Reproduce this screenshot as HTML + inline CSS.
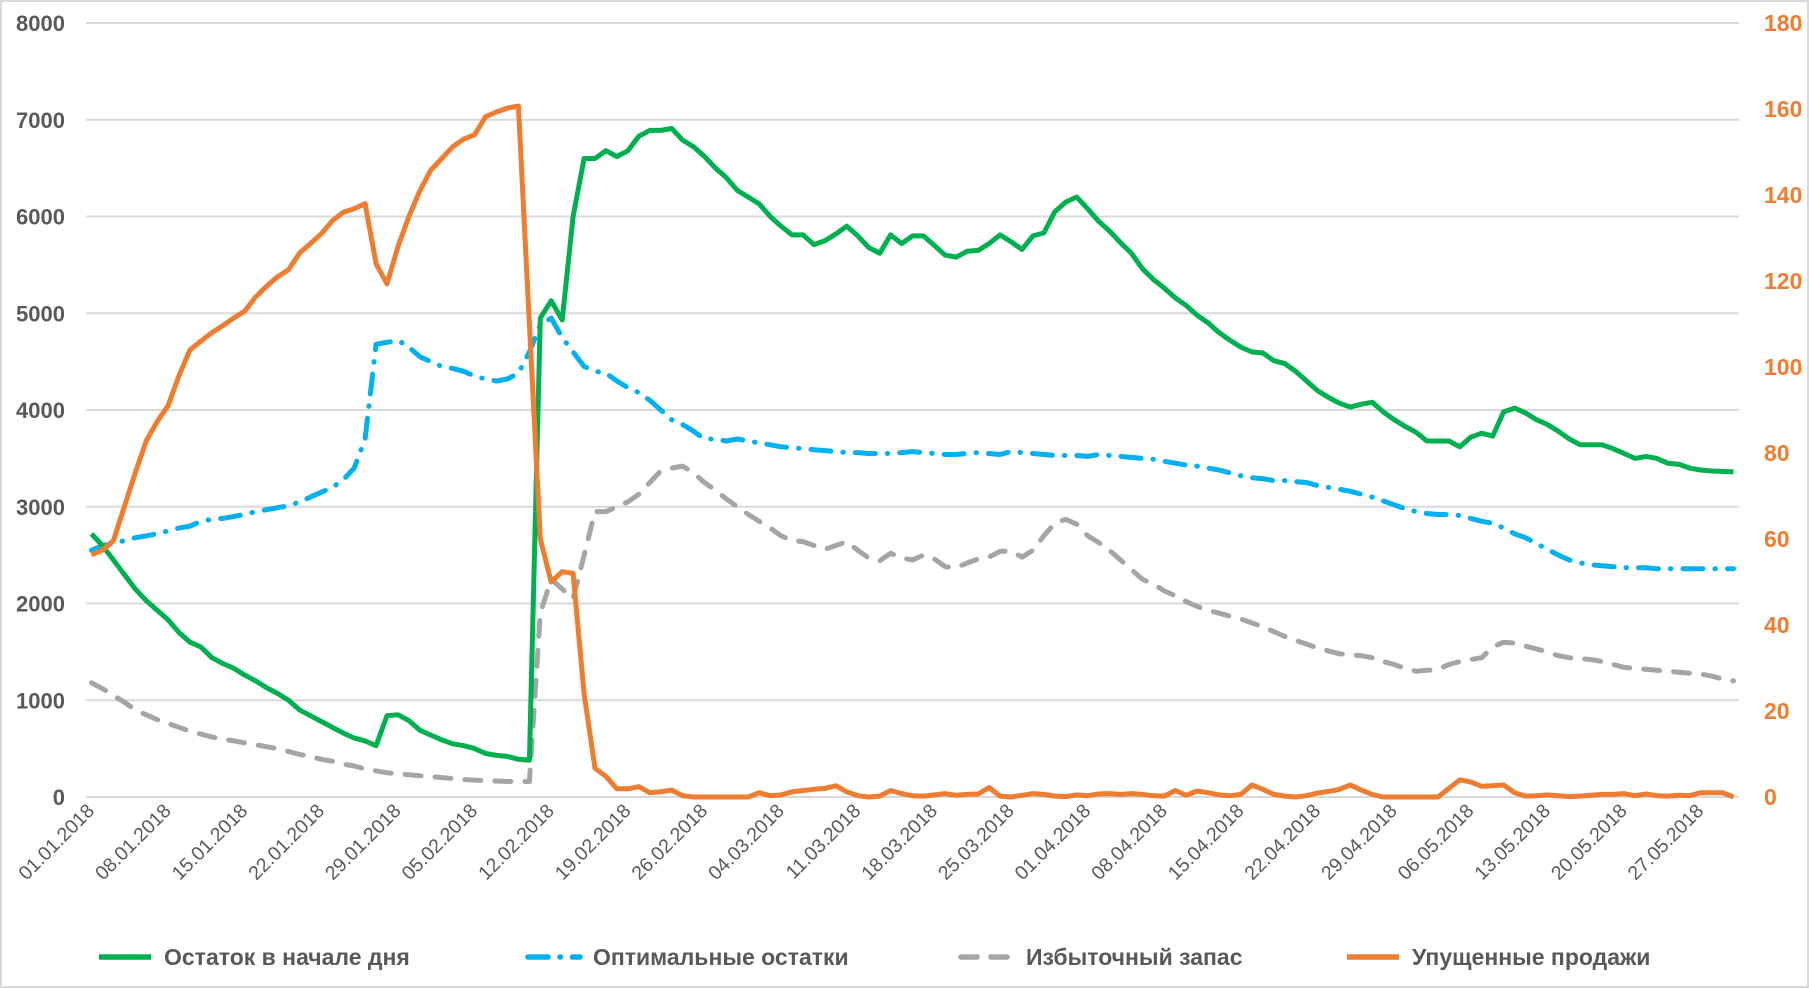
<!DOCTYPE html>
<html><head><meta charset="utf-8">
<style>
html,body{margin:0;padding:0;background:#fff;}
svg{display:block;font-family:"Liberation Sans",sans-serif;}
</style></head>
<body>
<svg id="chart" width="1809" height="988" viewBox="0 0 1809 988" xmlns="http://www.w3.org/2000/svg">
<rect x="1" y="1" width="1807" height="986" fill="#fff" stroke="#d9d9d9" stroke-width="2"/>
<g id="grid"></g><g id="yl"></g><g id="yr"></g><g id="xl"></g><g id="series"></g>
<g id="legend"></g>
</svg>
<script>
const leftTicks=[0,1000,2000,3000,4000,5000,6000,7000,8000];
const rightTicks=[0,20,40,60,80,100,120,140,160,180];
const dateLabels=["01.01.2018","08.01.2018","15.01.2018","22.01.2018","29.01.2018","05.02.2018","12.02.2018","19.02.2018","26.02.2018","04.03.2018","11.03.2018","18.03.2018","25.03.2018","01.04.2018","08.04.2018","15.04.2018","22.04.2018","29.04.2018","06.05.2018","13.05.2018","20.05.2018","27.05.2018"];
const stockStart=[2720,2600,2450,2300,2150,2030,1930,1830,1700,1600,1550,1440,1380,1330,1260,1200,1130,1070,1000,900,840,780,720,660,610,580,530,840,850,790,690,640,590,550,530,500,450,430,420,390,380,
4950,5130,4930,6000,6600,6600,6680,6620,6680,6830,6890,6890,6910,6790,6720,6620,6500,6400,6270,6200,6130,6000,5900,5810,5810,5710,5750,5820,5900,5800,5680,5620,5810,5720,5800,5800,5700,5600,5580,5640,5650,5720,5810,5740,5660,5800,5830,6050,6150,6200,6080,5950,5850,5730,5620,5460,5350,5260,5160,5080,4980,4900,4800,4720,4650,4600,4590,4510,4480,4400,4300,4200,4130,4070,4030,4060,4080,3980,3900,3830,3770,3680,3680,3680,3620,3720,3760,3730,3980,4020,3970,3900,3850,3780,3700,3640,3640,3640,3600,3550,3500,3520,3500,3450,3440,3400,3380,3370,3365,3360];
const optimal=[2550,2600,2620,2650,2680,2700,2720,2750,2780,2800,2850,2870,2880,2900,2920,2950,2970,2990,3010,3050,3100,3150,3200,3280,3400,3700,4680,4700,4720,4650,4550,4500,4450,4430,4400,4350,4320,4300,4320,4380,4600,4880,4950,4750,4600,4450,4400,4380,4300,4230,4180,4100,4000,3900,3850,3780,3700,3700,3680,3700,3680,3660,3640,3620,3610,3600,3590,3580,3570,3560,3560,3550,3550,3550,3560,3570,3560,3550,3540,3540,3550,3560,3550,3540,3570,3560,3550,3540,3530,3530,3530,3520,3540,3530,3520,3510,3500,3490,3470,3450,3430,3420,3400,3380,3350,3320,3300,3290,3270,3270,3260,3250,3220,3200,3180,3160,3130,3100,3060,3020,2980,2950,2930,2920,2920,2910,2880,2850,2830,2780,2720,2680,2620,2560,2500,2450,2420,2400,2390,2380,2370,2370,2370,2360,2360,2360,2360,2360,2360,2360,2360];
const excess=[1180,1120,1050,980,900,850,800,760,720,680,650,620,600,580,560,540,520,500,470,440,420,390,370,340,320,290,270,250,240,230,220,210,200,190,180,175,170,165,160,160,160,
1900,2250,2150,2050,2500,2950,2950,3000,3050,3130,3250,3370,3400,3420,3350,3250,3170,3080,3000,2920,2850,2780,2700,2650,2640,2600,2560,2600,2640,2550,2470,2440,2520,2470,2450,2500,2460,2380,2370,2420,2460,2480,2540,2540,2480,2550,2700,2830,2870,2820,2700,2630,2550,2450,2350,2250,2200,2130,2080,2020,1970,1930,1900,1870,1840,1800,1760,1710,1660,1620,1580,1540,1510,1480,1470,1460,1440,1400,1370,1330,1300,1310,1320,1370,1400,1420,1440,1550,1600,1590,1560,1530,1500,1460,1440,1430,1420,1400,1370,1340,1330,1320,1310,1300,1290,1280,1270,1250,1220,1200];
const lostSales=[56.3,57.4,59.6,67.5,75.4,82.8,87.3,91,98,104,106,108,109.6,111.4,113,116.3,118.8,121,122.6,126.5,128.7,131,134,136,136.8,138,124,119.3,128,135,141,145.8,148.5,151.2,153,154,158.2,159.3,160.2,160.7,110,60,50,52.4,52,24,6.7,4.8,1.9,1.9,2.4,1,1.2,1.6,0.3,0,0,0,0,0,0,1,0.3,0.5,1.2,1.5,1.8,2,2.6,1.2,0.3,0,0.2,1.5,0.8,0.3,0.2,0.5,0.8,0.4,0.6,0.7,2.2,0.2,0,0.4,0.8,0.6,0.2,0.1,0.5,0.3,0.7,0.8,0.6,0.8,0.6,0.3,0.2,1.5,0.4,1.4,1,0.5,0.3,0.6,2.8,1.8,0.6,0.2,0,0.3,0.9,1.3,1.8,2.8,1.6,0.6,0,0,0,0,0,0,2,4,3.5,2.5,2.6,2.8,1,0.2,0.3,0.5,0.3,0.1,0.2,0.4,0.6,0.6,0.8,0.3,0.7,0.3,0.2,0.4,0.3,1,1,1,0];

const NS="http://www.w3.org/2000/svg";
const X0=86,X1=1739,Y0=797,Y1=23;
const N=stockStart.length;
const step=(X1-X0)/N;
const x=i=>X0+step*(i+0.5);
const yL=v=>Y0-v/8000*(Y0-Y1);
const yR=v=>Y0-v/180*(Y0-Y1);
function mk(tag,attrs,parent){const e=document.createElementNS(NS,tag);for(const k in attrs)e.setAttribute(k,attrs[k]);parent.appendChild(e);return e;}
const grid=document.getElementById('grid');
leftTicks.forEach(v=>{
  const l=mk('line',{x1:X0,x2:X1,y1:yL(v),y2:yL(v),stroke:'#d9d9d9','stroke-width':2},grid);
  
  
  const t=mk('text',{x:65,y:yL(v)+8,'text-anchor':'end','font-size':22,'font-weight':'bold',fill:'#595959'},document.getElementById('yl'));
  t.textContent=v;
  
  
});
rightTicks.forEach(v=>{
  const t=mk('text',{x:1764,y:yR(v)+8,'text-anchor':'start','font-size':23,'font-weight':'bold',fill:'#ED7D31'},document.getElementById('yr'));
  t.textContent=v;
  
  
});
dateLabels.forEach((d,k)=>{
  const px=x(k*7)+4,py=812;
  const t=mk('text',{x:px,y:py,'text-anchor':'end','font-size':19.5,fill:'#595959',transform:`rotate(-45 ${px} ${py})`},document.getElementById('xl'));
  t.textContent=d;
  
  
});
const ser=document.getElementById('series');
function line(arr,yf,color,dash,name){
  const d=arr.map((v,i)=>(i?'L':'M')+x(i).toFixed(1)+' '+yf(v).toFixed(1)).join(' ');
  const p=mk('path',{d:d,fill:'none',stroke:color,'stroke-width':5,'stroke-linejoin':'round','stroke-linecap':dash?'round':'butt'},ser);
  if(dash)p.setAttribute('stroke-dasharray',dash);
  
  
}
line(excess,yL,'#A5A5A5','16 14','excess-stock-line');
line(optimal,yL,'#00B0F0','20 12 0.5 12','optimal-stock-line');
line(stockStart,yL,'#00B050',null,'stock-start-line');
line(lostSales,yR,'#ED7D31',null,'lost-sales-line');

const lg=document.getElementById('legend');
const items=[["Остаток в начале дня","#00B050",null,96],["Оптимальные остатки","#00B0F0","20 12 0.5 12",525],["Избыточный запас","#A5A5A5","16 14",958],["Упущенные продажи","#ED7D31",null,1344]];
items.forEach(it=>{
  const l=mk('line',{x1:it[3]+3,x2:it[3]+55,y1:957,y2:957,stroke:it[1],'stroke-width':5.5,'stroke-linecap':it[2]?'round':'butt'},lg);
  if(it[2])l.setAttribute('stroke-dasharray',it[2]);
  
  
  const t=mk('text',{x:it[3]+68,y:965,'font-size':23,'font-weight':'bold',fill:'#595959'},lg);
  t.textContent=it[0];
  
  
});
</script>
</body></html>
